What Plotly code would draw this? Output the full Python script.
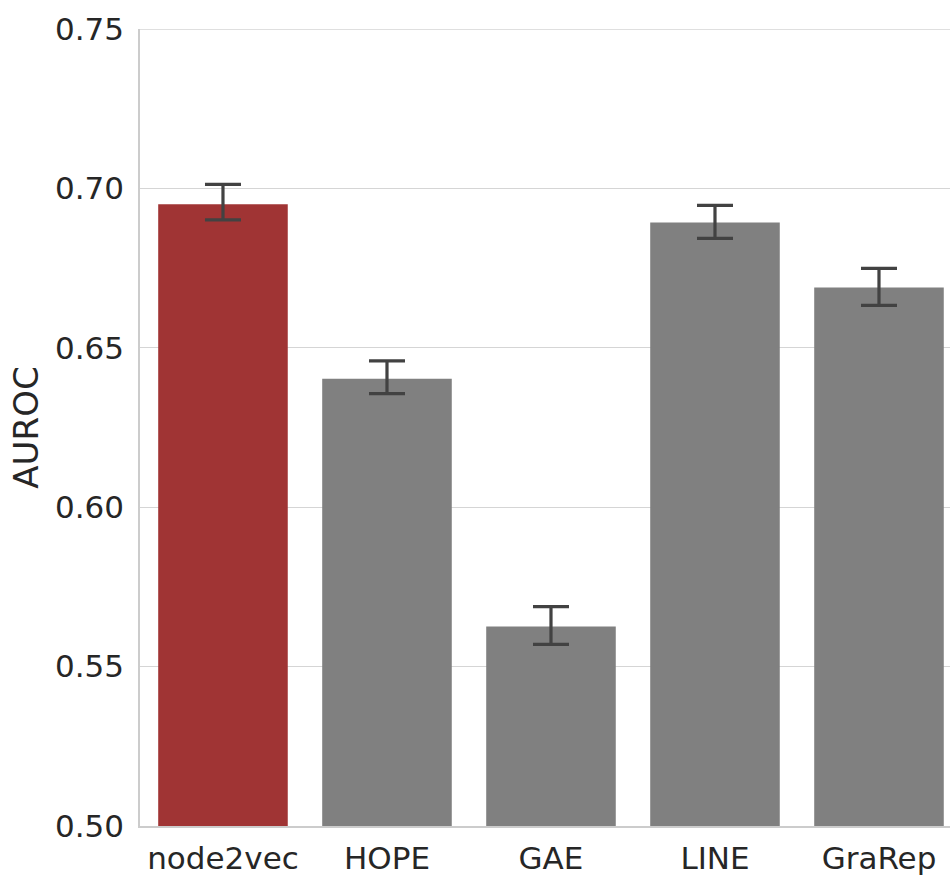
import plotly.graph_objects as go

methods = ["node2vec", "HOPE", "GAE", "LINE", "GraRep"]
auroc = [0.6950, 0.6403, 0.5626, 0.6893, 0.6689]
upper = [0.70125, 0.6459, 0.5688, 0.6947, 0.6749]
lower = [0.6901, 0.6356, 0.5570, 0.6843, 0.6633]
colors = ["#a03434", "#808080", "#808080", "#808080", "#808080"]
yticks = [0.50, 0.55, 0.60, 0.65, 0.70, 0.75]

err_plus = [u - m for u, m in zip(upper, auroc)]
err_minus = [m - l for m, l in zip(auroc, lower)]

fig = go.Figure(go.Bar(
    x=list(range(len(methods))), y=auroc, width=0.79,
    marker=dict(color=colors, line=dict(width=0)),
    error_y=dict(type="data", symmetric=False, array=err_plus, arrayminus=err_minus,
                 color="#424242", thickness=3.2, width=18),
))

font = "DejaVu Sans"
fig.update_layout(
    width=950, height=876,
    margin=dict(l=140, r=0, t=29, b=47),
    paper_bgcolor="white", plot_bgcolor="white",
    showlegend=False,
    font=dict(family=font, size=31, color="#262626"),
)
fig.update_xaxes(
    range=[-0.506, 4.433],
    tickmode="array", tickvals=list(range(len(methods))), ticktext=methods,
    showgrid=False, showline=True, linecolor="#cccccc", linewidth=1.5,
    mirror=False, ticks="", tickfont=dict(size=31, family=font, color="#262626"),
    ticklabelstandoff=4,
)
fig.update_yaxes(
    range=[0.50, 0.75],
    tickmode="array", tickvals=yticks, ticktext=[f"{v:.2f}" for v in yticks],
    showgrid=True, gridcolor="#d5d5d5", gridwidth=1.3,
    showline=True, linecolor="#cccccc", linewidth=1.5,
    zeroline=False, ticks="", ticklen=0,
    title=dict(text="AUROC", font=dict(size=34, family=font, color="#262626"), standoff=6),
    tickfont=dict(size=31, family=font, color="#262626"),
    ticklabelstandoff=8,
)
fig.add_shape(type="line", xref="paper", yref="y", x0=0, x1=1, y0=0.75, y1=0.75,
              line=dict(color="#d5d5d5", width=1.3), layer="below")

fig.write_html(
    "out.html",
    config={"displayModeBar": False},
    post_script="document.body.style.margin='0';document.body.style.overflow='hidden';",
)
